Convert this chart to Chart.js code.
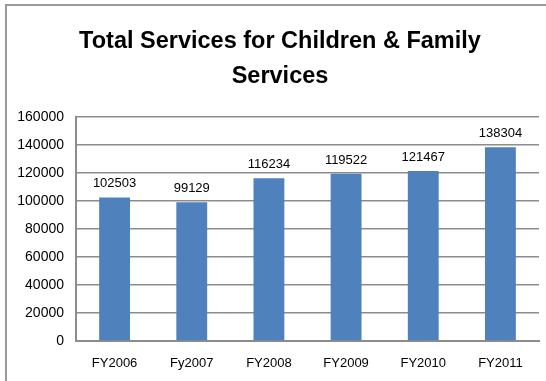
<!DOCTYPE html>
<html>
<head>
<meta charset="utf-8">
<script src="https://cdn.jsdelivr.net/npm/chart.js@4/dist/chart.umd.min.js"></script>
<style>
  html, body { margin: 0; padding: 0; background: #fff; }
  #wrap { width: 546px; height: 381px; position: relative; }
</style>
</head>
<body>
<div id="wrap"><canvas id="servicesChart"></canvas></div>
<script>
const categories = ['FY2006', 'Fy2007', 'FY2008', 'FY2009', 'FY2010', 'FY2011'];
const totalServices = [102503, 99129, 116234, 119522, 121467, 138304];
const yTicks = [0, 20000, 40000, 60000, 80000, 100000, 120000, 140000, 160000];
const titleLines = ['Total Services for Children & Family', 'Services'];

const fontFamily = "'Liberation Sans', Arial, sans-serif";

// outer frame (only top and left edges show) plus the title, centred on the frame
const framePlugin = {
  id: 'frame',
  afterDraw(chart) {
    const ctx = chart.ctx;
    ctx.save();
    ctx.strokeStyle = '#9a9a9a';
    ctx.lineWidth = 2;
    ctx.beginPath();
    ctx.moveTo(6, 381);
    ctx.lineTo(6, 5);
    ctx.lineTo(546, 5);
    ctx.stroke();

    ctx.fillStyle = '#000';
    ctx.font = 'bold 23.5px ' + fontFamily;
    ctx.textAlign = 'center';
    ctx.textBaseline = 'middle';
    titleLines.forEach((line, i) => ctx.fillText(line, 280, 42 + i * 35));
    ctx.restore();
  }
};

// value labels above each bar
const valueLabels = {
  id: 'valueLabels',
  afterDatasetsDraw(chart) {
    const ctx = chart.ctx;
    const meta = chart.getDatasetMeta(0);
    ctx.save();
    ctx.font = '13px ' + fontFamily;
    ctx.fillStyle = '#000';
    ctx.textAlign = 'center';
    ctx.textBaseline = 'alphabetic';
    meta.data.forEach((bar, i) => {
      ctx.fillText(String(totalServices[i]), bar.x, bar.y - 10);
    });
    ctx.restore();
  }
};

new Chart(document.getElementById('servicesChart'), {
  type: 'bar',
  data: {
    labels: categories,
    datasets: [{
      data: totalServices,
      backgroundColor: '#4f81bd',
      categoryPercentage: 1,
      barPercentage: 0.4
    }]
  },
  options: {
    responsive: true,
    maintainAspectRatio: false,
    animation: false,
    layout: { padding: { left: 0, right: 7, top: 117, bottom: 0 } },
    plugins: {
      legend: { display: false },
      tooltip: { enabled: false },
      title: { display: false }
    },
    scales: {
      x: {
        grid: { display: false, drawTicks: false },
        border: { color: '#8c8c8c', width: 2 },
        ticks: { color: '#000', font: { family: fontFamily, size: 13 }, padding: 15 },
        afterFit(scale) { scale.height = 40; }
      },
      y: {
        min: 0,
        max: 160000,
        afterBuildTicks(scale) { scale.ticks = yTicks.map(v => ({ value: v })); },
        grid: { color: '#8c8c8c', lineWidth: 1.5, tickLength: 0 },
        border: { color: '#8c8c8c', width: 2 },
        ticks: {
          color: '#000',
          font: { family: fontFamily, size: 14 },
          padding: 12,
          callback: v => String(v)
        },
        afterFit(scale) { scale.width = 76; }
      }
    }
  },
  plugins: [framePlugin, valueLabels]
});
</script>
</body>
</html>
